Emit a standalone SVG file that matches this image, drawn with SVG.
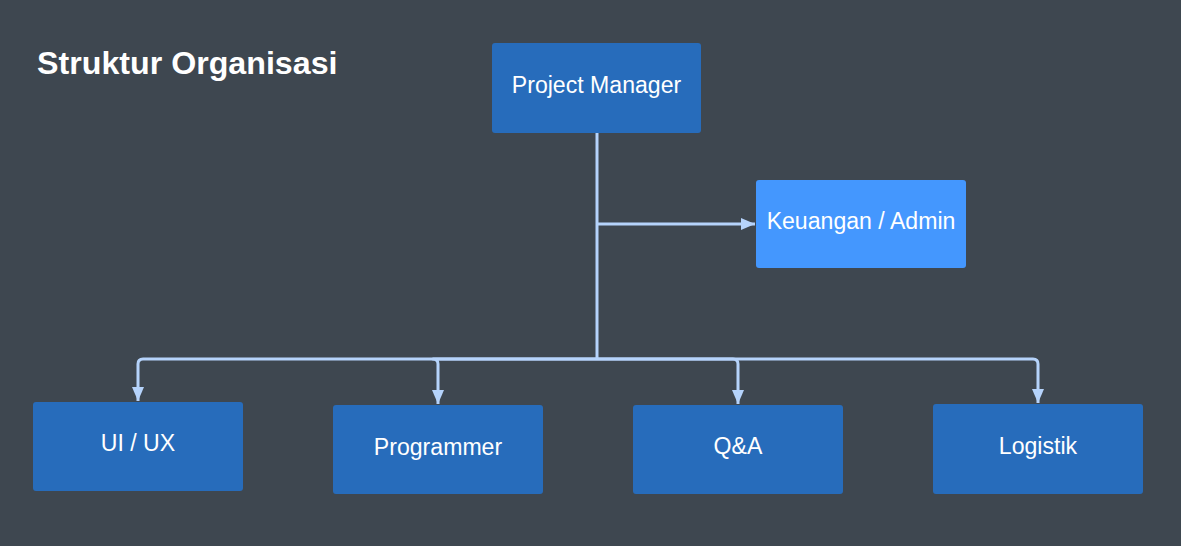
<svg xmlns="http://www.w3.org/2000/svg" width="1181" height="546" viewBox="0 0 1181 546">
<style>
.node{fill:#276cbb}
.light{fill:#4497fe}
.lbl{font-family:"Liberation Sans",Arial,sans-serif;font-size:23.1px;fill:#ffffff;text-anchor:middle}
.conn{fill:none;stroke:#b5d3fb;stroke-width:3;stroke-linejoin:round}
</style>
<defs>
<marker id="arr" viewBox="0 0 14 12" refX="14" refY="6" markerWidth="14" markerHeight="12" markerUnits="userSpaceOnUse" orient="auto">
<path d="M0,0 L14,6 L0,12 Z" fill="#b5d3fb"/>
</marker>
</defs>
<rect width="1181" height="546" fill="#3e4750"/>
<text x="37" y="73.5" font-family="Liberation Sans,Arial,sans-serif" font-weight="bold" font-size="32.2" fill="#ffffff">Struktur Organisasi</text>
<g id="connectors">
<path class="conn" d="M597,133 V359"/>
<path class="conn" d="M597,224 H755" marker-end="url(#arr)"/>
<path class="conn" d="M597,359 H143 Q138,359 138,364 V401" marker-end="url(#arr)"/>
<path class="conn" d="M597,359 H433 Q438,359 438,364 V404" marker-end="url(#arr)"/>
<path class="conn" d="M597,359 H733 Q738,359 738,364 V404" marker-end="url(#arr)"/>
<path class="conn" d="M597,359 H1033 Q1038,359 1038,364 V403" marker-end="url(#arr)"/>
</g>
<g id="pm"><rect class="node" x="492" y="43" width="209" height="90" rx="3"/><text class="lbl" x="596.5" y="92.5">Project Manager</text></g>
<g id="keuangan"><rect class="light" x="756" y="180" width="210" height="88" rx="3"/><text class="lbl" x="861" y="228.5">Keuangan / Admin</text></g>
<g id="uiux"><rect class="node" x="33" y="402" width="210" height="89" rx="3"/><text class="lbl" x="138" y="450.5">UI / UX</text></g>
<g id="programmer"><rect class="node" x="333" y="405" width="210" height="89" rx="3"/><text class="lbl" x="438" y="454.5">Programmer</text></g>
<g id="qa"><rect class="node" x="633" y="405" width="210" height="89" rx="3"/><text class="lbl" x="738" y="453.5">Q&amp;A</text></g>
<g id="logistik"><rect class="node" x="933" y="404" width="210" height="90" rx="3"/><text class="lbl" x="1038" y="453.5">Logistik</text></g>
</svg>
